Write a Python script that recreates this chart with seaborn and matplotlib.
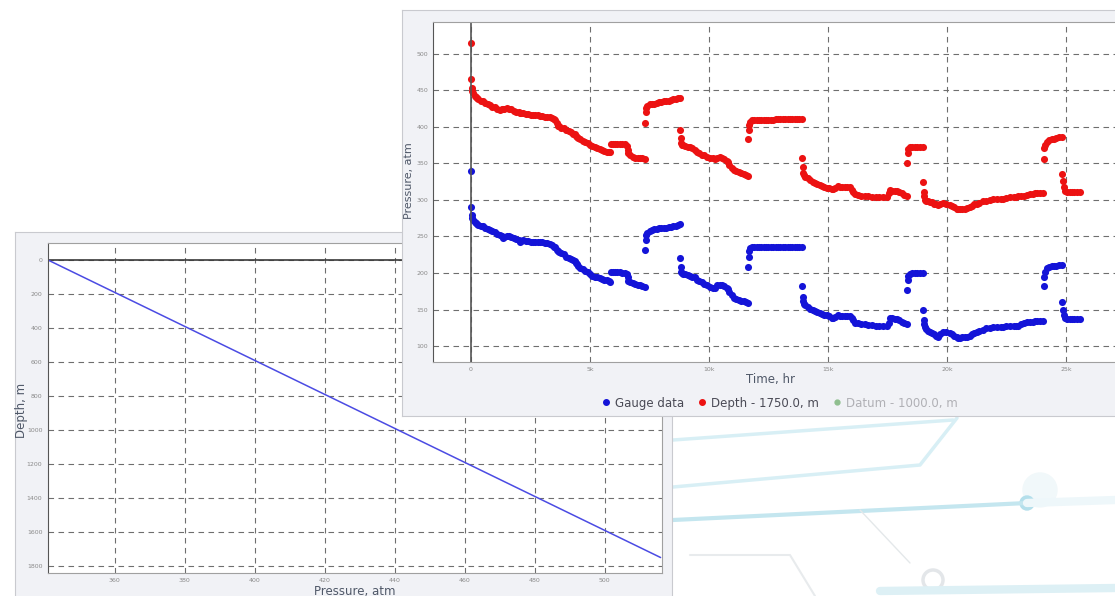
import matplotlib
matplotlib.use('Agg')
import matplotlib.pyplot as plt
import seaborn as sns
import pandas as pd
from matplotlib.lines import Line2D
from matplotlib.patches import Circle

# time, hr (same sampling for both pressure series)
time_hr = [
    # build-up at start and first decline
    0, 0, 30, 60, 100, 150, 200, 250, 300, 400, 500, 600, 700, 800, 900, 1000, 1100, 1200, 1300, 1350,
    1400, 1500, 1600, 1700, 1800, 1900, 2000, 2050, 2100, 2200, 2300, 2400, 2500, 2600, 2700, 2800,
    2900, 3000, 3100, 3200, 3300, 3400, 3500, 3550, 3600, 3650, 3700, 3800, 3900, 4000, 4100, 4200,
    4300, 4350, 4400, 4450, 4500, 4600, 4700, 4800, 4900, 5000, 5100, 5200, 5300, 5400, 5500, 5600,
    5700, 5800, 5850, 5870, 5950, 6050, 6150, 6250, 6350, 6450, 6550, 6580, 6600, 6700, 6800, 6900,
    7000, 7100, 7200, 7310,
    # shut-in 1
    7320, 7340, 7360, 7400, 7500, 7600, 7700, 7800, 7900, 8000, 8100, 8200, 8300, 8400, 8500, 8600,
    8700, 8780,
    # flow 2
    8790, 8810, 8830, 8850, 8900, 9000, 9100, 9200, 9300, 9400, 9500, 9600, 9700, 9800, 9900, 10040,
    10150, 10250, 10350, 10460, 10550, 10650, 10750, 10800, 10850, 10950, 11050, 11150, 11250, 11350,
    11450, 11550, 11630,
    # shut-in 2
    11650, 11670, 11690, 11720, 11800, 11900, 12000, 12100, 12200, 12300, 12400, 12500, 12600, 12700,
    12800, 12900, 13000, 13100, 13200, 13300, 13400, 13500, 13600, 13700, 13800, 13900,
    # flow 3
    13920, 13940, 13960, 13990, 14050, 14150, 14250, 14360, 14450, 14550, 14650, 14750, 14850, 14950,
    15050, 15150, 15200, 15300, 15410, 15500, 15600, 15700, 15800, 15920, 16000, 16050, 16130, 16250,
    16400, 16550, 16700, 16850, 17000, 17150, 17300, 17470, 17550, 17600, 17700, 17800, 17890, 18000,
    18100, 18200, 18310,
    # shut-in 3
    18330, 18350, 18380, 18450, 18550, 18650, 18750, 18850, 18990,
    # flow 4
    19000, 19020, 19040, 19070, 19120, 19200, 19300, 19370, 19450, 19550, 19620, 19700, 19830, 19950,
    20120, 20200, 20300, 20400, 20460, 20550, 20650, 20750, 20840, 20950, 21050, 21150, 21260, 21350,
    21500, 21650, 21810, 21950, 22100, 22250, 22360, 22500, 22650, 22800, 22900, 23000, 23100, 23250,
    23360, 23500, 23600, 23700, 23800, 23900, 24030,
    # shut-in 4
    24060, 24080, 24110, 24200, 24300, 24400, 24500, 24600, 24700, 24830,
    # flow 5
    24850, 24870, 24900, 24950, 25050, 25150, 25250, 25350, 25450, 25580,
]

# pressure at gauge, atm
gauge_atm = [
    340, 290, 279, 275, 272, 270, 268, 267, 266, 265, 264, 262, 260, 259, 257, 256, 254, 252, 250, 248,
    249, 250, 250, 249, 248, 247, 245, 242, 244, 245, 244, 244, 243, 243, 243, 243,
    242, 242, 241, 241, 240, 238, 236, 235, 232, 230, 229, 227, 226, 222, 221, 219,
    218, 216, 214, 212, 210, 207, 205, 203, 201, 198, 196, 195, 194, 193, 192, 191,
    190, 189, 188, 201, 202, 202, 201, 201, 200, 200, 199, 194, 189, 188, 186, 185,
    184, 183, 182, 181,
    231, 245, 252, 255, 258, 259, 260, 260, 261, 261, 262, 262, 263, 263, 264, 265,
    266, 267,
    220, 208, 202, 200, 199, 198, 197, 196, 195, 194, 191, 189, 187, 185, 183, 181,
    180, 179, 183, 184, 183, 182, 180, 178, 174, 170, 166, 165, 163, 162,
    161, 160, 159,
    208, 222, 230, 234, 235, 236, 236, 236, 236, 236, 236, 236, 236, 236,
    236, 236, 236, 236, 236, 236, 236, 236, 236, 236, 236, 236,
    182, 167, 161, 158, 156, 154, 151, 149, 148, 147, 145, 144, 143, 142,
    141, 139, 138, 140, 142, 141, 141, 141, 141, 141, 138, 135, 132, 131,
    130, 130, 129, 129, 128, 128, 127, 127, 132, 138, 138, 137, 137, 135,
    133, 131, 130,
    177, 190, 196, 199, 200, 200, 200, 200, 200,
    149, 136, 130, 126, 123, 121, 119, 118, 116, 114, 112, 116, 119, 119,
    118, 116, 114, 112, 111, 111, 112, 112, 112, 114, 116, 118, 119, 120,
    122, 124, 125, 126, 126, 126, 126, 127, 128, 128, 127, 128, 130, 132,
    133, 133, 133, 134, 134, 134, 134,
    182, 195, 202, 207, 208, 209, 210, 210, 211, 211,
    160, 150, 143, 138, 137, 137, 137, 137, 137, 137,
]

# pressure recalculated to depth 1750 m, atm
depth_atm = [
    515, 466, 453, 449, 446, 443, 441, 440, 438, 436, 435, 433, 432, 430, 428, 427, 425, 423, 424, 424,
    425, 426, 425, 424, 422, 421, 420, 419, 419, 419, 418, 418, 417, 417, 416, 416,
    415, 415, 414, 414, 413, 412, 411, 410, 405, 402, 401, 399, 398, 396, 395, 393,
    391, 390, 388, 386, 385, 383, 381, 380, 378, 376, 374, 372, 371, 370, 368, 367,
    366, 366, 366, 377, 377, 377, 377, 377, 377, 377, 374, 369, 364, 362, 359, 358,
    358, 357, 357, 356,
    405, 420, 426, 429, 431, 432, 432, 433, 434, 434, 435, 435, 436, 437, 438, 439,
    440, 440,
    396, 385, 378, 375, 375, 374, 373, 372, 371, 369, 366, 364, 362, 361, 359, 357,
    357, 356, 358, 359, 357, 356, 354, 352, 348, 344, 341, 340, 338, 337,
    336, 334, 333,
    384, 396, 403, 407, 409, 410, 410, 410, 410, 410, 410, 410, 410, 410,
    411, 411, 411, 411, 411, 411, 411, 411, 411, 411, 411, 411,
    357, 345, 337, 334, 332, 330, 328, 325, 323, 322, 320, 319, 318, 316,
    316, 315, 315, 317, 319, 318, 318, 318, 318, 318, 314, 311, 308, 307,
    306, 305, 305, 304, 304, 304, 304, 304, 309, 314, 313, 312, 312, 311,
    309, 307, 306,
    350, 364, 370, 373, 373, 373, 373, 373, 373,
    324, 311, 305, 300, 299, 298, 297, 297, 295, 294, 293, 295, 296, 295,
    293, 292, 290, 288, 287, 287, 288, 288, 289, 290, 292, 294, 295, 296,
    298, 299, 300, 301, 301, 302, 302, 303, 304, 304, 304, 305, 305, 306,
    307, 308, 308, 309, 309, 309, 309,
    356, 371, 376, 380, 382, 383, 384, 385, 386, 386,
    336, 326, 318, 312, 311, 311, 311, 311, 311, 311,
]

# pressure profile along the well
profile_atm = [341, 516]
profile_depth_m = [0, 1750]

time_ticks = [0, 5000, 10000, 15000, 20000, 25000]
time_tick_labels = ['0', '5k', '10k', '15k', '20k', '25k']
top_pres_ticks = [100, 150, 200, 250, 300, 350, 400, 450, 500]
left_pres_ticks = [360, 380, 400, 420, 440, 460, 480, 500]
depth_ticks = [0, 200, 400, 600, 800, 1000, 1200, 1400, 1600, 1800]
legend_labels = ['Gauge data', 'Depth - 1750.0, m', 'Datum - 1000.0, m']

df = pd.DataFrame({'time': time_hr, 'gauge': gauge_atm, 'depth': depth_atm})
profile = pd.DataFrame({'pressure': profile_atm, 'depth': profile_depth_m})

sns.set_style('white')
plt.rcParams['font.family'] = ['DejaVu Sans']

W, H = 1115, 596
fig = plt.figure(figsize=(W / 100, H / 100), dpi=100)
fig.patch.set_facecolor('white')


def box(x0, y0, x1, y1):
    # pixel box (top-left origin) -> figure fraction rect
    return [x0 / W, 1 - y1 / H, (x1 - x0) / W, (y1 - y0) / H]


grid_kw = dict(color='#6e6e6e', lw=0.8, linestyle=(0, (5, 4)))
label_col = '#4f5868'
tick_col = '#8a8a8a'

# faint background decoration (lower right)
bg = fig.add_axes([0, 0, 1, 1], zorder=-5)
bg.set_xlim(0, W)
bg.set_ylim(H, 0)
bg.axis('off')
deco_col = '#d8eff5'
bg.plot([673, 953], [440, 420], color=deco_col, lw=2.5)
bg.plot([673, 920, 957], [487, 465, 418], color=deco_col, lw=2.5)
bg.plot([673, 1027], [520, 503], color='#c4e6ef', lw=3)
bg.plot([1027, 1115], [503, 500], color='#eef7fa', lw=6)
bg.plot([860, 910], [510, 563], color='#e4e8ea', lw=1)
bg.plot([880, 1115], [591, 588], color='#ddf0f5', lw=6)
bg.plot([690, 790, 815], [555, 555, 596], color='#e8ebed', lw=1.5)
bg.add_patch(Circle((1040, 490), 17, color='#f1f8fa'))
bg.add_patch(Circle((1027, 503), 7, color='#b4dfeb'))
bg.add_patch(Circle((933, 580), 10, fill=False, ec='#e3e6e9', lw=2.5))

# left panel: depth vs pressure
frame_l = fig.add_axes(box(15, 232, 672, 610), zorder=1)
frame_l.set_facecolor('#f1f2f6')
frame_l.set_xticks([])
frame_l.set_yticks([])
for s in frame_l.spines.values():
    s.set_color('#c9cacf')

ax_l = fig.add_axes(box(48, 243, 662, 573), zorder=2)
ax_l.set_facecolor('white')
sns.lineplot(data=profile, x='pressure', y='depth', sort=False, color='#4b4be3', lw=1.1, ax=ax_l)
ax_l.axhline(0, color='#3a3a3a', lw=1.2, zorder=1)
ax_l.set_xlim(341, 516.4)
ax_l.set_ylim(1841, -100)
ax_l.set_xticks(left_pres_ticks)
ax_l.set_yticks(depth_ticks)
ax_l.grid(True, **grid_kw)
ax_l.set_xlabel('')
ax_l.set_ylabel('')
ax_l.tick_params(labelsize=4.5, colors=tick_col, length=2, pad=2)
ax_l.tick_params(axis='x', pad=1.5)
for s in ax_l.spines.values():
    s.set_color('#a0a0a0')
ax_l.spines['left'].set_color('#555555')
fig.text(22 / W, 1 - 410 / H, 'Depth, m', rotation=90, ha='center', va='center',
         fontsize=8.5, color=label_col, zorder=3)
fig.text(355 / W, 1 - 591 / H, 'Pressure, atm', ha='center', va='center',
         fontsize=8.5, color=label_col, zorder=3)

# top panel: pressure vs time
frame_t = fig.add_axes(box(402, 10, 1135, 416), zorder=3)
frame_t.set_facecolor('#f1f2f6')
frame_t.set_xticks([])
frame_t.set_yticks([])
for s in frame_t.spines.values():
    s.set_color('#c9cacf')

ax_t = fig.add_axes(box(433, 22, 1140, 362), zorder=4)
ax_t.set_facecolor('white')
sns.scatterplot(data=df, x='time', y='gauge', color='#1414d8', s=26, linewidth=0, ax=ax_t)
sns.scatterplot(data=df, x='time', y='depth', color='#ec1212', s=26, linewidth=0, ax=ax_t)
ax_t.axvline(0, color='#555555', lw=1.2, zorder=1)
ax_t.set_xlim(-1597, 28110)
ax_t.set_ylim(78.1, 543.8)
ax_t.set_xticks(time_ticks)
ax_t.set_xticklabels(time_tick_labels)
ax_t.set_yticks(top_pres_ticks)
ax_t.grid(True, **grid_kw)
ax_t.set_xlabel('')
ax_t.set_ylabel('')
ax_t.tick_params(labelsize=4.5, colors=tick_col, length=2, pad=1.5)
for s in ax_t.spines.values():
    s.set_color('#a0a0a0')
ax_t.spines['left'].set_color('#555555')

fig.text(770 / W, 1 - 380 / H, 'Time, hr', ha='center', va='center',
         fontsize=8.5, color=label_col, zorder=5)
fig.text(409 / W, 1 - 181 / H, 'Pressure, atm', rotation=90, ha='center', va='center',
         fontsize=8, color=label_col, zorder=5)

handles = [
    Line2D([], [], marker='o', ls='', color='#1414d8', markersize=4),
    Line2D([], [], marker='o', ls='', color='#ec1212', markersize=4),
    Line2D([], [], marker='o', ls='', color='#8fbf8f', markersize=3.5),
]
leg = frame_t.legend(handles, legend_labels, ncol=3, frameon=False, fontsize=8.5,
                     loc='center', bbox_to_anchor=(779 / W, 1 - 403 / H),
                     bbox_transform=fig.transFigure, handletextpad=0.3,
                     columnspacing=1.0, handlelength=1.0)
for txt, col in zip(leg.get_texts(), ['#4a4a55', '#4a4a55', '#b0b0b5']):
    txt.set_color(col)

fig.savefig('out.png', dpi=100)
